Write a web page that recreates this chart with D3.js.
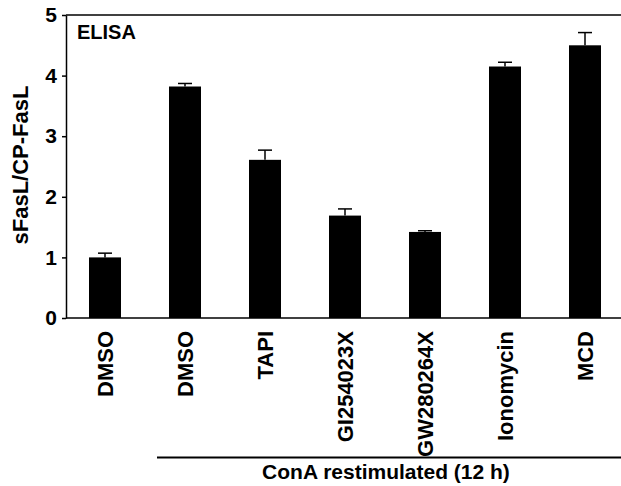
<!DOCTYPE html>
<html>
<head>
<meta charset="utf-8">
<script src="https://cdn.jsdelivr.net/npm/d3@7"></script>
<style>
    body { margin: 0; background: #fff; }
    svg { display: block; }
    text { font-family: "Liberation Sans", Arial, sans-serif; font-weight: bold; fill: #000; }
</style>
</head>
<body>
<svg id="chart" width="621" height="486"></svg>
<script>
var categories = ['DMSO', 'DMSO', 'TAPI', 'GI254023X', 'GW280264X', 'Ionomycin', 'MCD'];
var values = [1.00, 3.82, 2.61, 1.69, 1.42, 4.15, 4.50];
var errors = [0.07, 0.05, 0.16, 0.11, 0.02, 0.07, 0.21];
var yTicks = [0, 1, 2, 3, 4, 5];

(function(){
    var svg = d3.select('#chart'),
        left = 66,
        right = 621,
        top = 15,
        bottom = 318;

    var rows = categories.map(function(c, i) {
        return { key: i, name: c, value: values[i], err: errors[i] };
    });

    var x = d3.scaleBand()
        .domain(rows.map(function(d) { return d.key; }))
        .range([65, 625])
        .paddingInner(0.6)
        .paddingOuter(0.3);

    var y = d3.scaleLinear()
        .domain([0, 5])
        .range([bottom, top]);

    // bars
    svg.append('g')
        .selectAll('rect')
        .data(rows)
        .enter().append('rect')
        .attr('x', function(d) { return x(d.key); })
        .attr('y', function(d) { return y(d.value); })
        .attr('width', x.bandwidth())
        .attr('height', function(d) { return y(0) - y(d.value); })
        .attr('fill', '#000');

    // error bars (upper only)
    var eb = svg.append('g')
        .attr('stroke', '#000')
        .attr('stroke-width', 1.5)
        .selectAll('g')
        .data(rows)
        .enter().append('g');

    eb.append('line')
        .attr('x1', function(d) { return x(d.key) + x.bandwidth() / 2; })
        .attr('x2', function(d) { return x(d.key) + x.bandwidth() / 2; })
        .attr('y1', function(d) { return y(d.value); })
        .attr('y2', function(d) { return y(d.value + d.err); });

    eb.append('line')
        .attr('x1', function(d) { return x(d.key) + x.bandwidth() / 2 - 7; })
        .attr('x2', function(d) { return x(d.key) + x.bandwidth() / 2 + 7; })
        .attr('y1', function(d) { return y(d.value + d.err); })
        .attr('y2', function(d) { return y(d.value + d.err); });

    // y axis
    var yAxis = svg.append('g')
        .attr('transform', 'translate(' + left + ',0)')
        .call(d3.axisLeft(y).tickValues(yTicks).tickFormat(d3.format('d'))
            .tickSize(4).tickSizeOuter(0).tickPadding(5));
    yAxis.selectAll('path, line').attr('stroke', '#000').attr('stroke-width', 1.5);
    yAxis.selectAll('text')
        .style('font-size', '21px')
        .style('font-family', '"Liberation Sans", Arial, sans-serif')
        .style('font-weight', 'bold')
        .attr('fill', '#000');

    // top and bottom frame lines
    svg.append('line')
        .attr('x1', left).attr('x2', right)
        .attr('y1', y(5)).attr('y2', y(5))
        .attr('stroke', '#000').attr('stroke-width', 1.5);
    svg.append('line')
        .attr('x1', left).attr('x2', right)
        .attr('y1', y(0)).attr('y2', y(0))
        .attr('stroke', '#000').attr('stroke-width', 1.5);

    // category labels
    svg.append('g')
        .selectAll('text')
        .data(rows)
        .enter().append('text')
        .attr('transform', function(d) {
            return 'translate(' + (x(d.key) + x.bandwidth() / 2) + ',331) rotate(-90)';
        })
        .attr('text-anchor', 'end')
        .attr('dy', '0.36em')
        .style('font-size', '22px')
        .text(function(d) { return d.name; });

    // y title
    svg.append('text')
        .attr('transform', 'translate(28,165) rotate(-90)')
        .attr('text-anchor', 'middle')
        .style('font-size', '22px')
        .text('sFasL/CP-FasL');

    svg.append('text')
        .attr('x', 77)
        .attr('y', 39)
        .style('font-size', '20px')
        .text('ELISA');

    // group bracket
    svg.append('line')
        .attr('x1', 157).attr('x2', right)
        .attr('y1', 457.5).attr('y2', 457.5)
        .attr('stroke', '#000').attr('stroke-width', 2);

    svg.append('text')
        .attr('x', 386)
        .attr('y', 479)
        .attr('text-anchor', 'middle')
        .style('font-size', '21px')
        .text('ConA restimulated (12 h)');
})();
</script>
</body>
</html>
